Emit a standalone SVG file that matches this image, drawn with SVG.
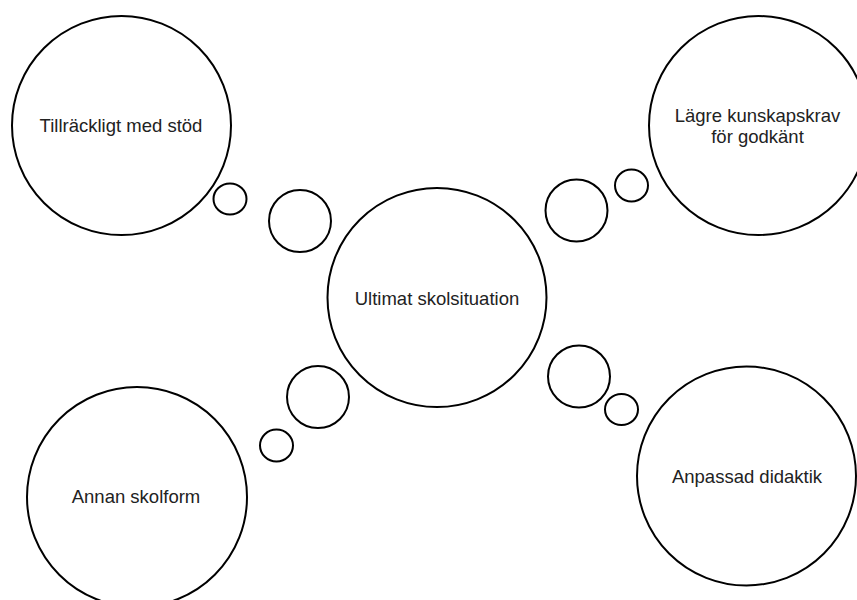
<svg xmlns="http://www.w3.org/2000/svg" width="857" height="600" viewBox="0 0 857 600">
<style>
.c{fill:#fff;stroke:#000;stroke-width:2}
.t{font-family:"Liberation Sans",Arial,sans-serif;font-size:18.5px;fill:#222;text-anchor:middle}
</style>
<rect width="857" height="600" fill="#fff"/>
<g id="connectors">
<ellipse class="c" cx="230" cy="199" rx="16.5" ry="15.5"/>
<circle class="c" cx="300" cy="221" r="31"/>
<circle class="c" cx="576.5" cy="210.5" r="31"/>
<ellipse class="c" cx="631.5" cy="185.5" rx="16.5" ry="16"/>
<circle class="c" cx="318" cy="397" r="31"/>
<ellipse class="c" cx="276.5" cy="445.5" rx="16.5" ry="16"/>
<circle class="c" cx="579" cy="376.5" r="31"/>
<ellipse class="c" cx="621.5" cy="409.5" rx="16.5" ry="15.5"/>
</g>
<g id="n-stod">
<circle class="c" cx="121.5" cy="125.5" r="109.5"/>
<text class="t" x="121" y="132">Tillräckligt med stöd</text>
</g>
<g id="n-krav">
<circle class="c" cx="758.5" cy="125.5" r="109.5"/>
<text class="t" x="757.5" y="122">Lägre kunskapskrav</text>
<text class="t" x="757.5" y="143">för godkänt</text>
</g>
<g id="n-center">
<circle class="c" cx="437" cy="297.5" r="109.5"/>
<text class="t" x="437" y="305">Ultimat skolsituation</text>
</g>
<g id="n-skolform">
<circle class="c" cx="137" cy="497" r="110"/>
<text class="t" x="136" y="503">Annan skolform</text>
</g>
<g id="n-didaktik">
<circle class="c" cx="746.5" cy="476" r="109.5"/>
<text class="t" x="747" y="483">Anpassad didaktik</text>
</g>
</svg>
